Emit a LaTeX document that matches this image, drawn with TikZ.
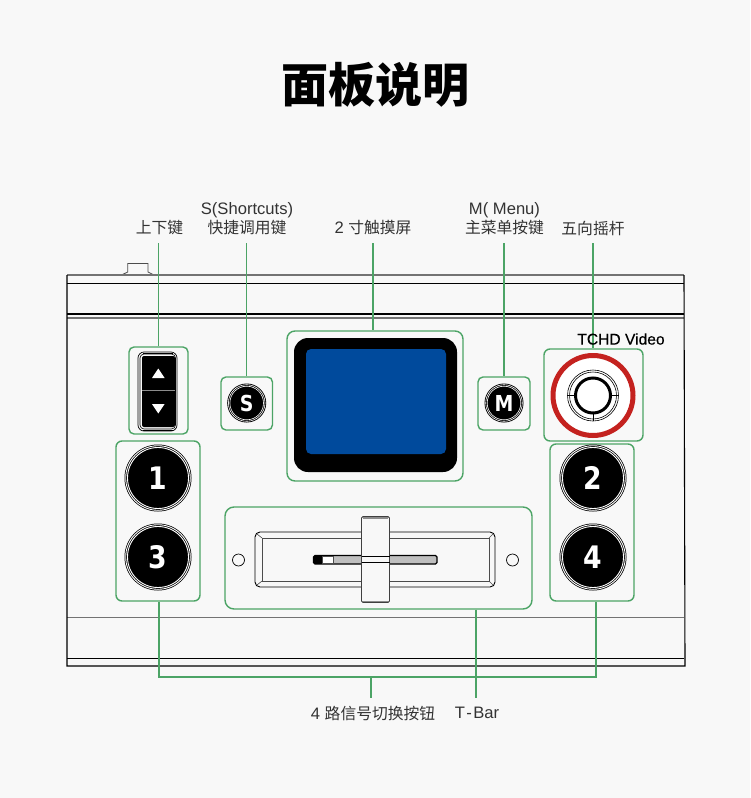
\documentclass[tikz,border=0pt]{standalone}
\usepackage{fontspec}
\setmainfont{Liberation Sans}
\newfontfamily\cjk[Scale=0.95]{Noto Sans CJK SC}
\newfontfamily\keyfont[FakeStretch=0.86]{DejaVu Sans}
\newfontfamily\brandfont[FakeBold=0.25]{Liberation Sans}
\definecolor{pagebg}{HTML}{F8F8F8}
\definecolor{gline}{HTML}{4CA466}
\definecolor{labelc}{HTML}{333333}
\definecolor{screenblue}{HTML}{004A9C}
\definecolor{ringred}{HTML}{C4221F}
\tikzset{
  x=1pt,y=-1pt,
  lead/.style={draw=gline,line width=1.5pt},
  gbox/.style={draw=gline,line width=1.4pt,rounded corners=5pt},
  bodyline/.style={draw=black,line width=0.9pt},
  greyline/.style={draw=black!55,line width=1.1pt},
  lab/.style={text=labelc,font=\fontsize{16.6}{18}\selectfont,align=center,inner sep=0pt},
}
\newcommand{\bigkey}[3]{%
  \fill[black] (#1,#2) circle (33.5);
  \draw[white,line width=0.9pt] (#1,#2) circle (32.3);
  \draw[white,line width=0.9pt] (#1,#2) circle (30.5);
  \node[text=white,font=\keyfont\bfseries\fontsize{31}{31}\selectfont,inner sep=0pt] at (#1,#2) {#3};
}
\newcommand{\tinykey}[3]{%
  \fill[black] (#1,#2) circle (19.5);
  \draw[white,line width=0.6pt] (#1,#2) circle (18.3);
  \draw[white,line width=0.6pt] (#1,#2) circle (16.8);
  \node[text=white,font=\keyfont\bfseries\fontsize{22}{22}\selectfont,inner sep=0pt] at (#1,#2) {#3};
}
\begin{document}
\begin{tikzpicture}
\useasboundingbox (0,0) rectangle (750,798);
\fill[pagebg] (0,0) rectangle (750,798);
% title
\node[inner sep=0pt,font=\cjk\bfseries\fontsize{49.5}{52}\selectfont,text=black] (title) at (375.5,85) {面板说明};
% device body
\draw[draw=black!70,line width=0.8pt] (121.5,275) -- (127.7,272) -- (127.7,263.5) -- (148,263.5) -- (148,272) -- (154,275);
\draw[greyline] (67,275) -- (684,275);
\draw[bodyline] (67,283) -- (684,283);
\draw[draw=black,line width=1.6pt] (67,314) -- (684,314);
\draw[greyline] (67,318) -- (684,318);
\draw[greyline] (67,617.5) -- (684,617.5);
\draw[bodyline] (67,658) -- (684,658);
\draw[draw=black,line width=1.1pt] (67,275) -- (67,666) -- (685,666) -- (684,275);
% leads
\coordinate (upTop) at (158.7,243);
\coordinate (sTop) at (246.7,243);
\coordinate (scrTop) at (373,243);
\coordinate (mTop) at (504,243);
\coordinate (joyTop) at (593,243);
\coordinate (bL) at (159,677);
\coordinate (bR) at (596,677);
\coordinate (bM) at (371,677);
\coordinate (bMe) at (371,698);
\coordinate (tbE) at (476,698);
% boxes
\node[gbox,minimum width=59pt,minimum height=87pt,inner sep=0pt] (upbox) at (158.5,390.5) {};
\node[gbox,minimum width=51.5pt,minimum height=53pt,inner sep=0pt] (sbox) at (246.7,403.5) {};
\node[gbox,rounded corners=8pt,minimum width=176pt,minimum height=150pt,inner sep=0pt] (scrbox) at (375,406) {};
\node[gbox,minimum width=52pt,minimum height=53pt,inner sep=0pt] (mbox) at (504,403.5) {};
\node[gbox,rounded corners=6pt,minimum width=99pt,minimum height=92pt,inner sep=0pt] (joybox) at (593.5,395) {};
\node[gbox,rounded corners=6pt,minimum width=84pt,minimum height=160pt,inner sep=0pt] (lbox) at (158,521) {};
\node[gbox,rounded corners=6pt,minimum width=84pt,minimum height=157pt,inner sep=0pt] (rbox) at (592,522.5) {};
\node[gbox,rounded corners=9pt,minimum width=307pt,minimum height=102pt,inner sep=0pt] (tbox) at (378.5,558) {};
\draw[lead] (upTop) -- (upTop |- upbox.north);
\draw[lead] (sTop) -- (sTop |- sbox.north);
\draw[lead] (scrTop) -- (scrTop |- scrbox.north);
\draw[lead] (mTop) -- (mTop |- mbox.north);
\draw[lead] (joyTop) -- (joyTop |- joybox.north);
\draw[lead] (bL |- lbox.south) -- (bL) -- (bR) -- (bR |- rbox.south);
\draw[lead] (bM) -- (bMe);
\draw[lead] (tbE |- tbox.south) -- (tbE);
% labels
\node[lab] (l1) at (159.5,228) {\cjk 上下键};
\node[lab] (l2) at (247,218.5) {S(Shortcuts)\\[1pt]{\cjk 快捷调用键}};
\node[lab] (l3) at (373,228) {2 {\cjk 寸触摸屏}};
\node[lab] (l4) at (504.5,218.5) {M( Menu)\\[1pt]{\cjk 主菜单按键}};
\node[lab] (l5) at (593,228) {\cjk 五向摇杆};
\node[lab] (l6) at (373,713) {4 {\cjk 路信号切换按钮}};
\node[lab] (l7) at (477,713) {T\kern1.5pt-\kern1.5pt Bar};
\node[inner sep=0pt,text=black,font=\brandfont\fontsize{15.6}{17}\selectfont] (brand) at (621,339) {TCHD Video};
% up down keys
\draw[black,line width=0.7pt,rounded corners=6pt] (138,352) rectangle (177,431);
\draw[black,line width=0.6pt,rounded corners=4pt] (140,354) rectangle (175.5,429);
\draw[black,line width=0.6pt] (143,353) -- (173,353) (143,430) -- (173,430);
\fill[black,rounded corners=2pt] (142,356) rectangle (175,427);
\draw[black!45,line width=0.9pt] (142,390.5) -- (175,390.5);
\fill[white] (158.3,368.5) -- (152,378) -- (164.6,378) -- cycle;
\fill[white] (158.3,413.5) -- (152,404) -- (164.6,404) -- cycle;
% small keys
\tinykey{246.7}{403}{S}
\tinykey{504}{403}{M}
% screen
\fill[black,rounded corners=14pt] (294,338) rectangle (457,472);
\fill[screenblue,rounded corners=5pt] (306,349) rectangle (446,454);
% joystick
\fill[white] (593,395.5) circle (40);
\draw[ringred,line width=5pt] (593,395.5) circle (40);
\draw[black,line width=0.6pt] (593,395.5) circle (25.5);
\draw[black,line width=0.6pt] (593,395.5) circle (23.5);
\draw[black,line width=3pt] (593,395.5) circle (17.5);
\draw[black,line width=0.6pt] (567.5,395.5) -- (575,395.5) (611,395.5) -- (618.5,395.5) (593,414) -- (593,421);
% big keys
\bigkey{158}{478}{1}
\bigkey{158}{557}{3}
\bigkey{593}{478}{2}
\bigkey{593}{557}{4}
% T-Bar
\draw[black,line width=0.7pt] (238.5,560) circle (6);
\draw[black,line width=0.7pt] (512.5,560) circle (6);
\draw[black,line width=0.9pt,rounded corners=5pt] (255,532) rectangle (495,587);
\draw[black!70,line width=0.6pt] (262,538) rectangle (489,581);
\draw[black!70,line width=0.6pt] (257,534) -- (262,538) (493,534) -- (489,538) (257,585) -- (262,581) (493,585) -- (489,581);
\draw[black,line width=1.1pt,rounded corners=1.5pt,fill=black!25] (313.5,555.5) rectangle (437,564);
\fill[black] (313.5,555.5) rectangle (322,564);
\fill[white] (322,556.3) rectangle (333,563.2);
\draw[black!70,line width=0.5pt] (322,556.3) rectangle (333,563.2);
\draw[black!75,line width=0.9pt,rounded corners=1.5pt,fill=pagebg] (361.5,516.5) rectangle (389.5,602.5);
\fill[black!45] (363,517) rectangle (388,518.5);
\fill[black!45] (363,600.5) rectangle (388,602);
\draw[black,line width=1.1pt] (361.5,556.5) -- (389.5,556.5) (361.5,562.5) -- (389.5,562.5);
\end{tikzpicture}
\end{document}
